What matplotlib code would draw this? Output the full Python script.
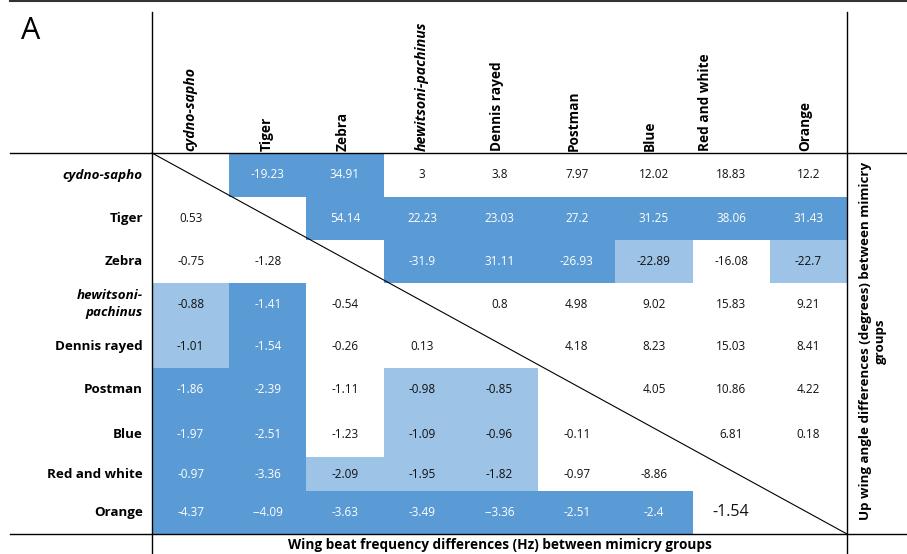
import numpy as np
import matplotlib
matplotlib.use("Agg")
import matplotlib.pyplot as plt
from matplotlib.patches import Rectangle

# Mimicry groups (rows and columns share the same order)
groups = ["cydno-sapho", "Tiger", "Zebra", "hewitsoni-pachinus", "Dennis rayed",
          "Postman", "Blue", "Red and white", "Orange"]
row_labels = ["cydno-sapho", "Tiger", "Zebra", "hewitsoni-\npachinus", "Dennis rayed",
              "Postman", "Blue", "Red and white", "Orange"]
italic_groups = ["cydno-sapho", "hewitsoni-pachinus"]

# Cell texts: upper triangle = up wing angle differences (degrees),
# lower triangle = wing beat frequency differences (Hz)
cell_text = [
    ["", "-19.23", "34.91", "3", "3.8", "7.97", "12.02", "18.83", "12.2"],
    ["0.53", "", "54.14", "22.23", "23.03", "27.2", "31.25", "38.06", "31.43"],
    ["-0.75", "-1.28", "", "-31.9", "31.11", "-26.93", "-22.89", "-16.08", "-22.7"],
    ["-0.88", "-1.41", "-0.54", "", "0.8", "4.98", "9.02", "15.83", "9.21"],
    ["-1.01", "-1.54", "-0.26", "0.13", "", "4.18", "8.23", "15.03", "8.41"],
    ["-1.86", "-2.39", "-1.11", "-0.98", "-0.85", "", "4.05", "10.86", "4.22"],
    ["-1.97", "-2.51", "-1.23", "-1.09", "-0.96", "-0.11", "", "6.81", "0.18"],
    ["-0.97", "-3.36", "-2.09", "-1.95", "-1.82", "-0.97", "-8.86", "", ""],
    ["-4.37", "--4.09", "-3.63", "-3.49", "--3.36", "-2.51", "-2.4", "-1.54", ""],
]

# Significance level of each comparison: 2 = strong, 1 = weak, 0 = none
significance = [
    [0, 2, 2, 0, 0, 0, 0, 0, 0],
    [0, 0, 2, 2, 2, 2, 2, 2, 2],
    [0, 0, 0, 2, 2, 2, 1, 0, 1],
    [1, 2, 0, 0, 0, 0, 0, 0, 0],
    [1, 2, 0, 0, 0, 0, 0, 0, 0],
    [2, 2, 0, 1, 1, 0, 0, 0, 0],
    [2, 2, 0, 1, 1, 0, 0, 0, 0],
    [2, 2, 1, 1, 1, 0, 0, 0, 0],
    [2, 2, 2, 2, 2, 2, 2, 0, 0],
]

x_title = "Wing beat frequency differences (Hz) between mimicry groups"
y_title = "Up wing angle differences (degrees) between mimicry\ngroups"
panel = "A"

# ---- layout (pixel space of a 907 x 554 canvas) ----
W, H = 907, 554
col_edges = np.linspace(152, 847, 10)
row_edges = np.array([153, 197, 240, 283, 325, 368, 411, 457, 491, 534])
header_dx = [0, -1, -2, -1, -2, -3, -4, -26, -3]
fill_colors = {0: None, 1: "#9DC3E6", 2: "#5B9BD5"}
text_colors = {0: "#111111", 1: "#111111", 2: "white"}

FONT = "Open Sans"
plt.rcParams["font.family"] = [FONT, "DejaVu Sans"]

fig = plt.figure(figsize=(W / 100, H / 100), dpi=100)
ax = fig.add_axes([0, 0, 1, 1])
ax.set_xlim(0, W)
ax.set_ylim(H, 0)
ax.axis("off")

n = len(groups)
for i in range(n):
    for j in range(n):
        lvl = significance[i][j]
        x0, x1 = col_edges[j], col_edges[j + 1]
        y0, y1 = row_edges[i], row_edges[i + 1]
        if fill_colors[lvl]:
            ax.add_patch(Rectangle((x0, y0), x1 - x0, y1 - y0,
                                   facecolor=fill_colors[lvl], edgecolor="none", zorder=1))
        txt = cell_text[i][j]
        if txt:
            big = (i == n - 1 and lvl == 0)
            ax.text((x0 + x1) / 2, (y0 + y1) / 2, txt, ha="center", va="center",
                    fontsize=11.5 if big else 8.5, color=text_colors[lvl], zorder=3)

# diagonal separating the two triangles
ax.plot([col_edges[0], col_edges[-1]], [row_edges[0], row_edges[-1]],
        color="black", lw=0.8, zorder=4)

# frame lines
ax.plot([10, W], [row_edges[0], row_edges[0]], color="black", lw=1.0, zorder=4)
ax.plot([10, W], [row_edges[-1], row_edges[-1]], color="black", lw=1.0, zorder=4)
ax.plot([col_edges[0], col_edges[0]], [12, H], color="black", lw=1.0, zorder=4)
ax.plot([col_edges[-1], col_edges[-1]], [12, H], color="black", lw=1.0, zorder=4)
ax.plot([10, W], [0.6, 0.6], color="#333333", lw=1.5, zorder=4)

# column headers
for j, g in enumerate(groups):
    xc = (col_edges[j] + col_edges[j + 1]) / 2 + header_dx[j]
    italic = g in italic_groups
    ax.text(xc, row_edges[0] - 2, g, rotation=90, ha="center", va="bottom",
            fontsize=10.2 if italic else 9.8, fontweight="bold",
            style="italic" if italic else "normal", color="black")

# row headers
for i, g in enumerate(groups):
    yc = (row_edges[i] + row_edges[i + 1]) / 2
    ax.text(143, yc, row_labels[i], ha="right", va="center", fontsize=9.6,
            fontweight="bold", linespacing=1.35,
            style="italic" if g in italic_groups else "normal", color="black")

# axis titles
ax.text((col_edges[0] + col_edges[-1]) / 2, 545, x_title, ha="center", va="center",
        fontsize=9.8, fontweight="bold")
ax.text(873, 341, y_title, rotation=90, ha="center", va="center", fontsize=9.6,
        fontweight="bold", multialignment="center", linespacing=1.25)

# panel letter
ax.text(21, 31, panel, ha="left", va="center", fontsize=22)

fig.savefig("out.png", dpi=100)
